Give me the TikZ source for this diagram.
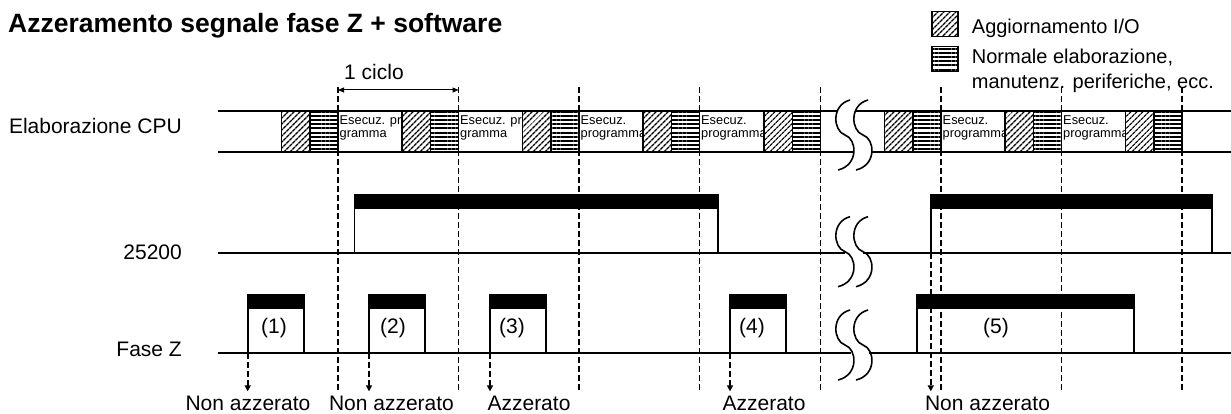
\documentclass[tikz,border=0pt]{standalone}
\usepackage{fontspec}
\setmainfont{Liberation Sans}
\usepackage{tikz}
\usetikzlibrary{positioning,arrows.meta,patterns.meta}

% S-shaped break mark, two of them side by side
\newcommand{\gapmark}[2]{%
  \foreach \o in {0,18}{%
    \draw[brk] ({#1+\o+5},{#2-35}) .. controls ({#1+\o-14},{#2-30}) and ({#1+\o-12},{#2-4}) .. ({#1+\o},#2)
      .. controls ({#1+\o+12},{#2+4}) and ({#1+\o+14},{#2+30}) .. ({#1+\o-7},{#2+35});}%
}

\begin{document}
\begin{tikzpicture}[x=1pt,y=-1pt,
  txt/.style={font=\fontsize{21}{24}\selectfont,inner sep=0pt},
  keytxt/.style={font=\fontsize{20}{24}\selectfont,inner sep=0pt,anchor=base west},
  rowlbl/.style={txt,anchor=base east},
  res/.style={txt,anchor=base},
  run/.style={font=\fontsize{12.8}{13.4}\selectfont,inner sep=0pt,align=left,anchor=north west},
  iobox/.style={draw,line width=1.4pt,preaction={fill=white},pattern={Lines[angle=45,distance=4pt,line width=1.4pt]}},
  svcbox/.style={draw,line width=1.4pt,preaction={fill=white},pattern={Lines[angle=0,distance=4.2pt,line width=1.9pt]}},
  sig/.style={line width=1.8pt},
  rise/.style={line width=1.6pt},
  hi/.style={fill=black},
  tick/.style={line width=1.6pt,dash pattern=on 6pt off 3pt},
  flag/.style={tick,-{Triangle[length=6pt,width=6pt]},shorten >=4pt},
  brk/.style={line width=1.6pt}
]
\useasboundingbox (0,0) rectangle (1231,414);

% title and legend
\node[font=\fontsize{26.5}{30}\selectfont\bfseries,inner sep=0pt,anchor=base west] (ttl) at (8,32.5) {Azzeramento segnale fase Z + software};
\node[iobox,minimum width=26pt,minimum height=25pt,inner sep=0pt] (keyio) at (945,24.2) {};
\node[svcbox,minimum width=26pt,minimum height=25pt,inner sep=0pt] (keysvc) at (945,59.2) {};
\node[keytxt] (lgio) at (971.7,33.3) {Aggiornamento I/O};
\node[keytxt] (lgsvc) at (971.7,63.3) {Normale elaborazione,};
\node[keytxt] (lgsvc2) at (971.7,88.3) {manutenz. periferiche, ecc.};

% row labels
\node[rowlbl] (cpu) at (182,133.3) {Elaborazione CPU};
\node[rowlbl] (ir) at (182,259) {25200};
\node[rowlbl] (fz) at (182,356.7) {Fase Z};

% CPU cycle band
\foreach \d/\w [count=\i] in {338/{Esecuz. pro\\gramma},458.5/{Esecuz. pro\\gramma},579/{Esecuz.\\programma},699.5/{Esecuz.\\programma},941/{Esecuz.\\programma},1061.5/{Esecuz.\\programma}}
  \node[run] (run\i) at (\d+1.5,115.5) {\w};
\foreach \d in {338,458.5,579,699.5,820.5,941,1061.5,1182}{
  \draw[iobox] (\d-56.5,111) rectangle (\d-28,152);
  \draw[svcbox] (\d-28,111) rectangle (\d,152);
}
\draw[sig] (218,111) -- (837,111) (855,111) -- (1231,111);
\draw[sig] (218,152) -- (854,152) (872,152) -- (1231,152);
\gapmark{845}{135}

% 25200
\draw[sig] (218,253.3) -- (845,253.3) (863,253.3) -- (1231,253.3);
\foreach \a/\b in {354.5/718,930.8/1211.7}{
  \fill[hi] (\a-0.8,194) rectangle (\b+0.8,209);
  \draw[rise] (\a,209) -- (\a,253.3) (\b,209) -- (\b,253.3);
}
\gapmark{845}{251.7}

% Fase Z
\draw[sig] (218,352.7) -- (851,352.7) (869,352.7) -- (1231,352.7);
\foreach \a/\b/\c [count=\i] in {247.7/304/274,369/425/393,490/546/512,730/786/752,916.7/1134/996}{
  \fill[hi] (\a-0.8,294) rectangle (\b+0.8,309);
  \draw[rise] (\a,309) -- (\a,352.7) (\b,309) -- (\b,352.7);
  \node[txt] (tag\i) at (\c,328) {(\i)};
}
\gapmark{845}{345}

% scan boundaries
\foreach \d in {338,458.5,579,699.5,820.5,941,1061.5,1182}
  \draw[tick] (\d,87) -- (\d,392);

% one cycle
\node[txt,anchor=base west] (cyc) at (344,80) {1 ciclo};
\coordinate (cyc0) at (338,90);
\coordinate (cyc1) at (458.5,90);
\draw[{Triangle[length=6pt,width=5pt]}-{Triangle[length=6pt,width=5pt]},line width=1pt] (cyc0) -- (cyc1);

% reset results
\foreach \x/\y/\c/\t [count=\i] in {247.7/352.7/248/Non azzerato,369/352.7/391.5/Non azzerato,490/352.7/529/Azzerato,730/352.7/764/Azzerato,930.8/253.3/987.5/Non azzerato}{
  \coordinate (src\i) at (\x,\y);
  \node[res] (res\i) at (\c,410) {\t};
  \draw[flag] (src\i) -- (src\i |- res\i.north);
}
\end{tikzpicture}
\end{document}
